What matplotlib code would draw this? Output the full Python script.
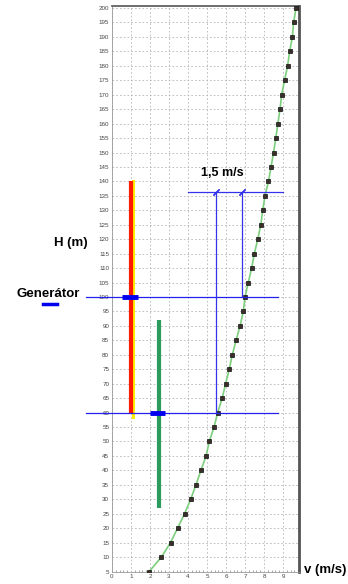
import numpy as np
import matplotlib
matplotlib.use("Agg")
import matplotlib.pyplot as plt

plt.rcParams['font.family'] = ['Liberation Sans', 'DejaVu Sans']

# curve H(v)
H = [5, 10, 15, 20, 25, 30, 35, 40, 45, 50, 55, 60, 65, 70, 75, 80, 85, 90, 95, 100,
     105, 110, 115, 120, 125, 130, 135, 140, 145, 150, 155, 160, 165, 170, 175, 180,
     185, 190, 195, 200]
v = [1.96, 2.6, 3.08, 3.45, 3.82, 4.14, 4.42, 4.68, 4.95, 5.12, 5.37, 5.56, 5.80, 5.98,
     6.17, 6.33, 6.53, 6.74, 6.91, 7.0, 7.17, 7.35, 7.49, 7.67, 7.83, 7.93, 8.05, 8.23,
     8.37, 8.5, 8.62, 8.73, 8.84, 8.93, 9.08, 9.24, 9.35, 9.49, 9.56, 9.68]

# red and green bars (v position, H from, H to)
red_bar = [1.0, 60, 140]
green_bar = [2.45, 27, 92]
# generator heights and their markers
gen_H = [100, 60]
gen_v = [1.0, 2.45]
# construction of the 1,5 m/s difference
diff_v = [5.47, 6.85]
diff_H = 136.3
diff_span = [4.0, 9.0]
hline_span = [-1.37, 8.74]

yticks = list(range(5, 201, 5))
xticks = list(range(0, 10))

fig = plt.figure(figsize=(3.48, 5.84), dpi=100)
ax = fig.add_axes([112/348, 1 - 571.5/584, 187/348, 565.5/584])

ax.set_xlim(0, 9.84)
ax.set_ylim(5, 200.7)
ax.set_xticks(xticks)
ax.set_yticks(yticks)
ax.set_xticks(np.arange(0, 9.84, 0.2), minor=True)
ax.tick_params(axis='both', labelsize=4.5, colors='#444444', length=0, pad=2)
ax.tick_params(axis='x', which='minor', length=1.5, color='#999999', direction='in')
ax.grid(True, color='#b5b5b5', linestyle=(0, (2, 2.5)), linewidth=0.6)
ax.set_axisbelow(True)
for s in ['left', 'bottom']:
    ax.spines[s].set_color('#999999')
    ax.spines[s].set_linewidth(0.6)
ax.spines['top'].set_color('#555555')
ax.spines['top'].set_linewidth(1.2)
ax.spines['right'].set_color('#555555')
ax.spines['right'].set_linewidth(2)

# curve
ax.plot(v, H, color='#7ccf7c', lw=1.2, zorder=3)
ax.plot(v, H, ls='none', marker='s', ms=3.0, mfc='#3a2f2a', mec='#111111', mew=0.5, zorder=4)

# bars
ax.plot([red_bar[0] + 0.08] * 2, [red_bar[1] - 1.5, red_bar[2]], color='#ffee00', lw=2.2, zorder=3)
ax.plot([red_bar[0]] * 2, red_bar[1:], color='#ff1a00', lw=3, zorder=3, solid_capstyle='butt')
ax.plot([green_bar[0]] * 2, green_bar[1:], color='#2e9b5e', lw=3, zorder=3, solid_capstyle='butt')

# blue construction lines
for h in gen_H:
    ax.plot(hline_span, [h, h], color='#2222ee', lw=0.9, clip_on=False, zorder=5)
for gv, gh in zip(gen_v, gen_H):
    ax.plot([gv - 0.45, gv + 0.35], [gh, gh], color='#0000ee', lw=3.5, solid_capstyle='butt', zorder=6)
ax.plot([diff_v[0]] * 2, [gen_H[1], diff_H], color='#3333ee', lw=0.9, zorder=5)
ax.plot([diff_v[1]] * 2, [gen_H[0], diff_H], color='#3333ee', lw=0.9, zorder=5)
ax.plot(diff_span, [diff_H, diff_H], color='#3333ee', lw=0.9, zorder=5)
ax.plot(diff_v, [diff_H] * 2, ls='none', marker=(2, 2, -45), ms=6, mec='#3333ee', mew=0.9, zorder=6)

ax.text(5.8, 143, '1,5 m/s', fontsize=9, fontweight='bold', ha='center', va='center')

# labels outside axes
fig.text(71/348, 1 - 243/584, 'H (m)', fontsize=9.5, fontweight='bold', ha='center', va='center')
fig.text(48/348, 1 - 294/584, 'Generátor', fontsize=9.5, fontweight='bold', ha='center', va='center')
fig.add_artist(plt.Line2D([43/348, 57/348], [1 - 304.5/584] * 2, color='#0000ee', lw=2.5))
fig.text(325/348, 1 - 570/584, 'v (m/s)', fontsize=9.5, fontweight='bold', ha='center', va='center')

fig.savefig('out.png', dpi=100)
